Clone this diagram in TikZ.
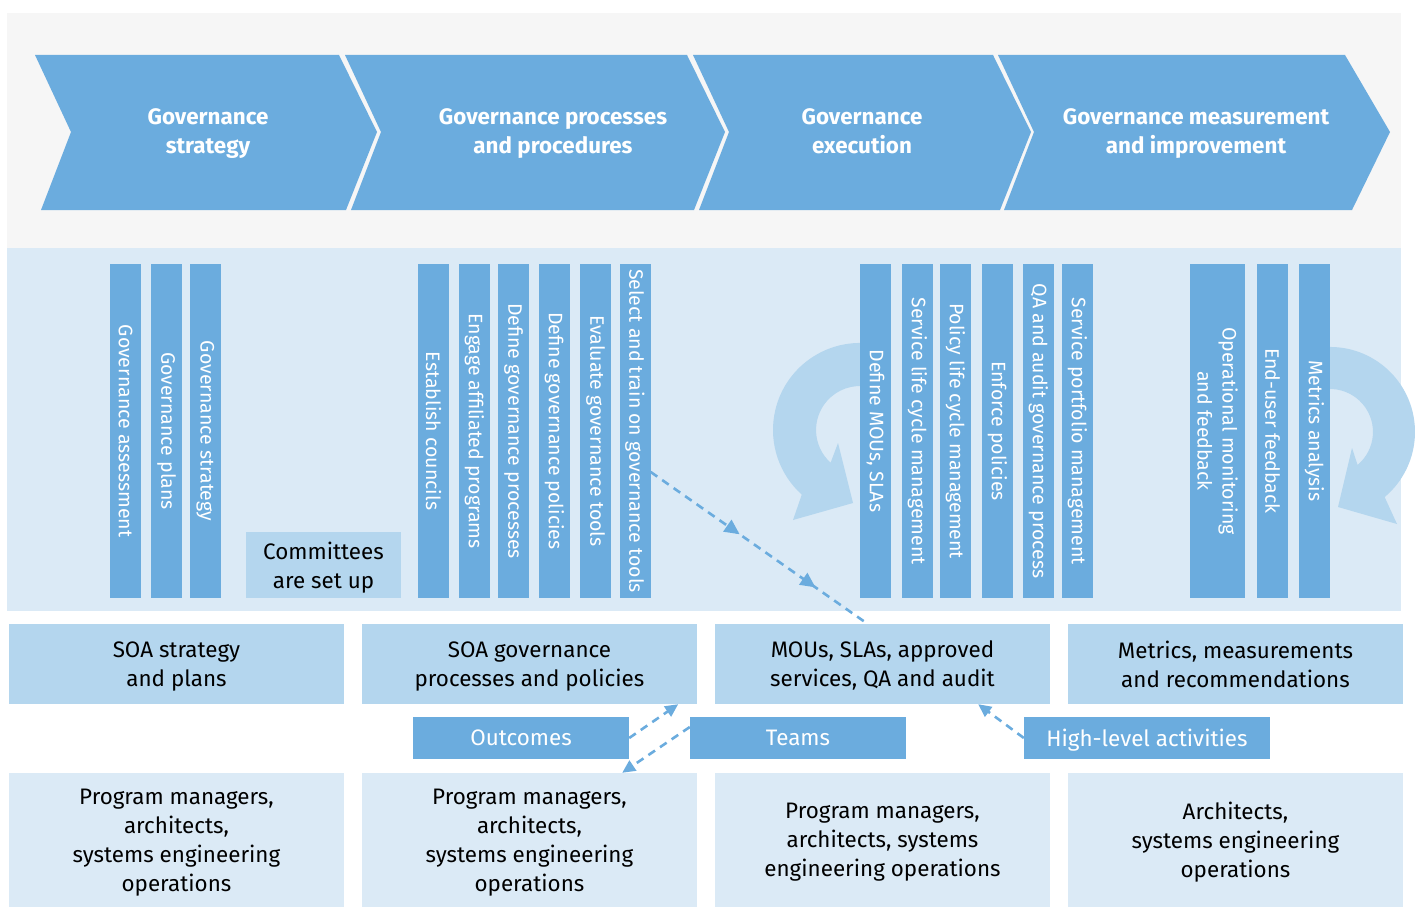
\documentclass[tikz,border=0pt]{standalone}
\usepackage{fontspec}
\setmainfont{Fira Sans}
\usetikzlibrary{arrows.meta,decorations.markings}
\definecolor{barblue}{HTML}{6BACDE}
\definecolor{boxblue}{HTML}{B4D6EE}
\definecolor{panelblue}{HTML}{DBEAF6}
\definecolor{panelgrey}{HTML}{F6F6F6}
\definecolor{loopblue}{HTML}{B4D6EE}
\newcommand{\labelsize}{\fontsize{22.4}{29}\selectfont}
\newcommand{\barsize}{\fontsize{19.5}{25}\selectfont}

\begin{document}
\begin{tikzpicture}[x=1pt, y=-1pt,
  phase/.style={align=center, text=white, text depth=0pt, font=\labelsize\bfseries},
  bar/.style={fill=barblue, text=white, rotate=-90, minimum width=334pt, minimum height=31pt,
    inner sep=0pt, align=center, font=\barsize},
  result/.style={fill=boxblue, minimum width=335pt, minimum height=80pt, inner sep=0pt,
    align=center, text depth=0pt, font=\labelsize},
  people/.style={fill=panelblue, minimum width=335pt, minimum height=134pt, inner sep=0pt,
    align=center, text depth=0pt, font=\labelsize},
  tag/.style={fill=barblue, text=white, minimum height=42pt, inner sep=0pt, text depth=0pt,
    font=\labelsize},
  link/.style={barblue, line width=2.6pt, dash pattern=on 8pt off 6pt,
    -{Triangle[length=13pt, width=12pt]}}]
  \useasboundingbox (0,0) rectangle (1419,907);
  \fill[panelgrey] (7,13) rectangle (1401,248);
  \fill[panelblue] (7,248) rectangle (1401,611);

  % phase chevrons
  \foreach \a/\b/\t/\cx/\nm/\txt in {
      35/339/38/208/strat/{Governance\\strategy},
      345/687/38/553/proc/{Governance processes\\and procedures},
      693/993/38/862/exec/{Governance\\execution},
      998/1345/45/1196/meas/{Governance measurement\\and improvement}}
    {\fill[barblue] (\a,55) -- (\b,55) -- (\b+\t,132) -- (\b+7,210) -- (\a+6,210) -- (\a+36,132) -- cycle;
     \node[phase] (\nm) at (\cx,131) {\txt};}

  % feedback loops behind the bars
  \fill[loopblue] (875.1,344.3) arc[start angle=280, end angle=132, radius=87]
    -- (793,520) -- (853,503) -- (838,443) -- (830.6,462.7)
    arc[start angle=132, end angle=280, radius=44] -- cycle;
  \fill[loopblue] (1322.6,347.3) arc[start angle=-95, end angle=50, radius=85]
    -- (1397,524) -- (1338,507) -- (1352,448) -- (1357.6,464.9)
    arc[start angle=50, end angle=-95, radius=43] -- cycle;

  % activity bars
  \foreach \x/\nm/\txt in {125.5/assess/Governance assessment, 166.5/plans/Governance plans,
      205.5/gstrat/Governance strategy}
    {\node[bar] (\nm) at (\x,431) {\txt};}
  \foreach \x/\nm/\txt in {433.5/councils/Establish councils, 474.5/engage/Engage affiliated programs,
      513.5/defproc/Define governance processes, 554.5/defpol/Define governance policies,
      595.5/evaltools/Evaluate governance tools, 635/seltrain/Select and train on governance tools}
    {\node[bar] (\nm) at (\x,431) {\txt};}
  \foreach \x/\nm/\txt in {875.5/defmou/{Define MOUs, SLAs}, 917.5/svclife/Service life cycle management,
      955.5/pollife/Policy life cycle management, 997.5/enforce/Enforce policies,
      1038.5/qaaudit/QA and audit governance process, 1077.5/portfolio/Service portfolio management}
    {\node[bar] (\nm) at (\x,431) {\txt};}
  \node[bar, minimum height=55pt] (opmon) at (1217.5,431) {Operational monitoring\\and feedback};
  \node[bar] (enduser) at (1272.5,431) {End-user feedback};
  \node[bar] (metrics) at (1314.5,431) {Metrics analysis};

  \node[fill=boxblue, minimum width=155pt, minimum height=66pt, inner sep=0pt, align=center,
    text depth=0pt, font=\labelsize] (committees) at (323.5,565) {Committees\\are set up};

  % outcomes
  \node[result] (soastrat) at (176.5,664) {SOA strategy\\and plans};
  \node[result] (soagov) at (529.5,664) {SOA governance\\processes and policies};
  \node[result] (mous) at (882.5,664) {MOUs, SLAs, approved\\services, QA and audit};
  \node[result] (measrec) at (1235.5,664) {Metrics, measurements\\and recommendations};

  \node[tag, minimum width=216pt] (outcomes) at (521,738) {Outcomes};
  \node[tag, minimum width=216pt] (teams) at (798,738) {Teams};
  \node[tag, minimum width=246pt] (highlevel) at (1147,738) {High-level activities};

  % teams
  \node[people] (pm1) at (176.5,840) {Program managers,\\architects,\\systems engineering\\operations};
  \node[people] (pm2) at (529.5,840) {Program managers,\\architects,\\systems engineering\\operations};
  \node[people] (pm3) at (882.5,840) {Program managers,\\architects, systems\\engineering operations};
  \node[people] (arch) at (1235.5,840) {Architects,\\systems engineering\\operations};

  \draw[barblue, line width=2.6pt, dash pattern=on 8pt off 6pt, postaction={decorate},
    decoration={markings,
      mark=at position 0.41 with {\arrow{Triangle[length=15pt, width=14pt]}},
      mark=at position 0.76 with {\arrow{Triangle[length=15pt, width=14pt]}}}]
    ([yshift=-41pt]seltrain.north) -- ([xshift=-15pt]mous.north);
  \draw[link] (outcomes.east) -- ([xshift=-19pt]soagov.south east);
  \draw[link] ([yshift=11pt]teams.west) -- ([xshift=-75pt]pm2.north east);
  \draw[link] (highlevel.west) -- ([xshift=-72pt]mous.south east);
\end{tikzpicture}
\end{document}
